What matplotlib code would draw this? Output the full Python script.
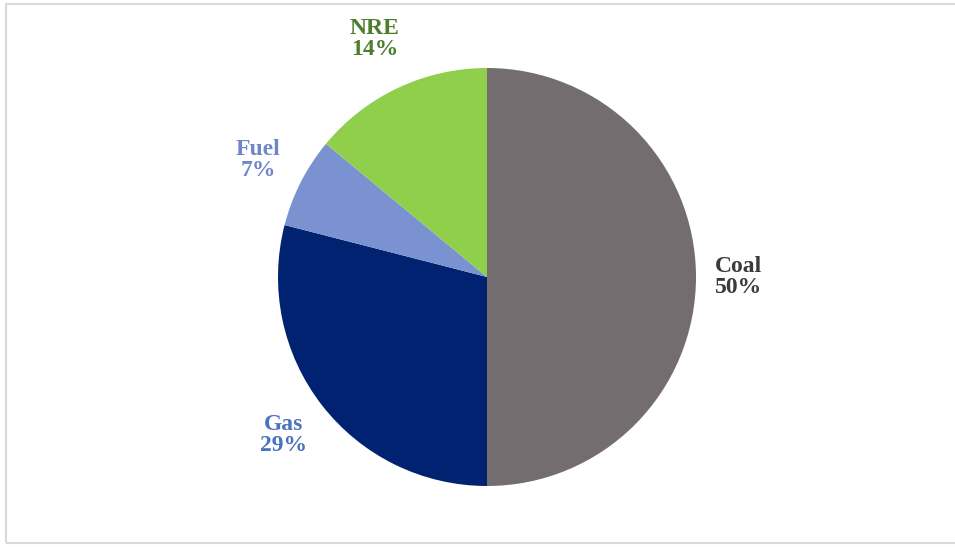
import matplotlib.pyplot as plt
import numpy as np
from matplotlib.patches import Rectangle

# Energy mix shares (%)
labels = ['Coal', 'Gas', 'Fuel', 'NRE']
shares = [50, 29, 7, 14]
colors = ['#736d70', '#002270', '#7b92d0', '#8fcf4c']
label_colors = ['#3b3b3b', '#4a72c0', '#6f86c8', '#4f7d2e']

W, H = 955, 547
fig = plt.figure(figsize=(W / 100, H / 100), dpi=100)
ax = fig.add_axes([0, 0, 1, 1])
ax.set_xlim(0, W)
ax.set_ylim(0, H)
ax.set_aspect('equal')
ax.axis('off')

cx, cy, r = 487, H - 277, 209
wedges, _ = ax.pie(shares, colors=colors, startangle=90, counterclock=False,
                   center=(cx, cy), radius=r, frame=True,
                   wedgeprops=dict(linewidth=0))
ax.set_xlim(0, W)
ax.set_ylim(0, H)
ax.axis('off')

# label placement: radial distance factor per slice
dist = [1.0, 1.23, 1.23, 1.26]
for w, lab, s, c, d in zip(wedges, labels, shares, label_colors, dist):
    mid = np.deg2rad((w.theta1 + w.theta2) / 2)
    if lab == 'Coal':
        x, y, ha = cx + r * 1.09, cy, 'left'
    else:
        x, y, ha = cx + r * d * np.cos(mid), cy + r * d * np.sin(mid), 'center'
    ax.text(x, y, f'{lab}\n{s}%', ha=ha, va='center', color=c,
            fontsize=17, fontweight='bold', family='Liberation Serif',
            linespacing=1.0)

# light frame around the chart
fig.patches.append(Rectangle((6 / W, 4 / H), (W - 4) / W, (H - 8) / H,
                             transform=fig.transFigure, fill=False,
                             edgecolor='#d9d9d9', linewidth=1.5))

fig.savefig('out.png', dpi=100)
